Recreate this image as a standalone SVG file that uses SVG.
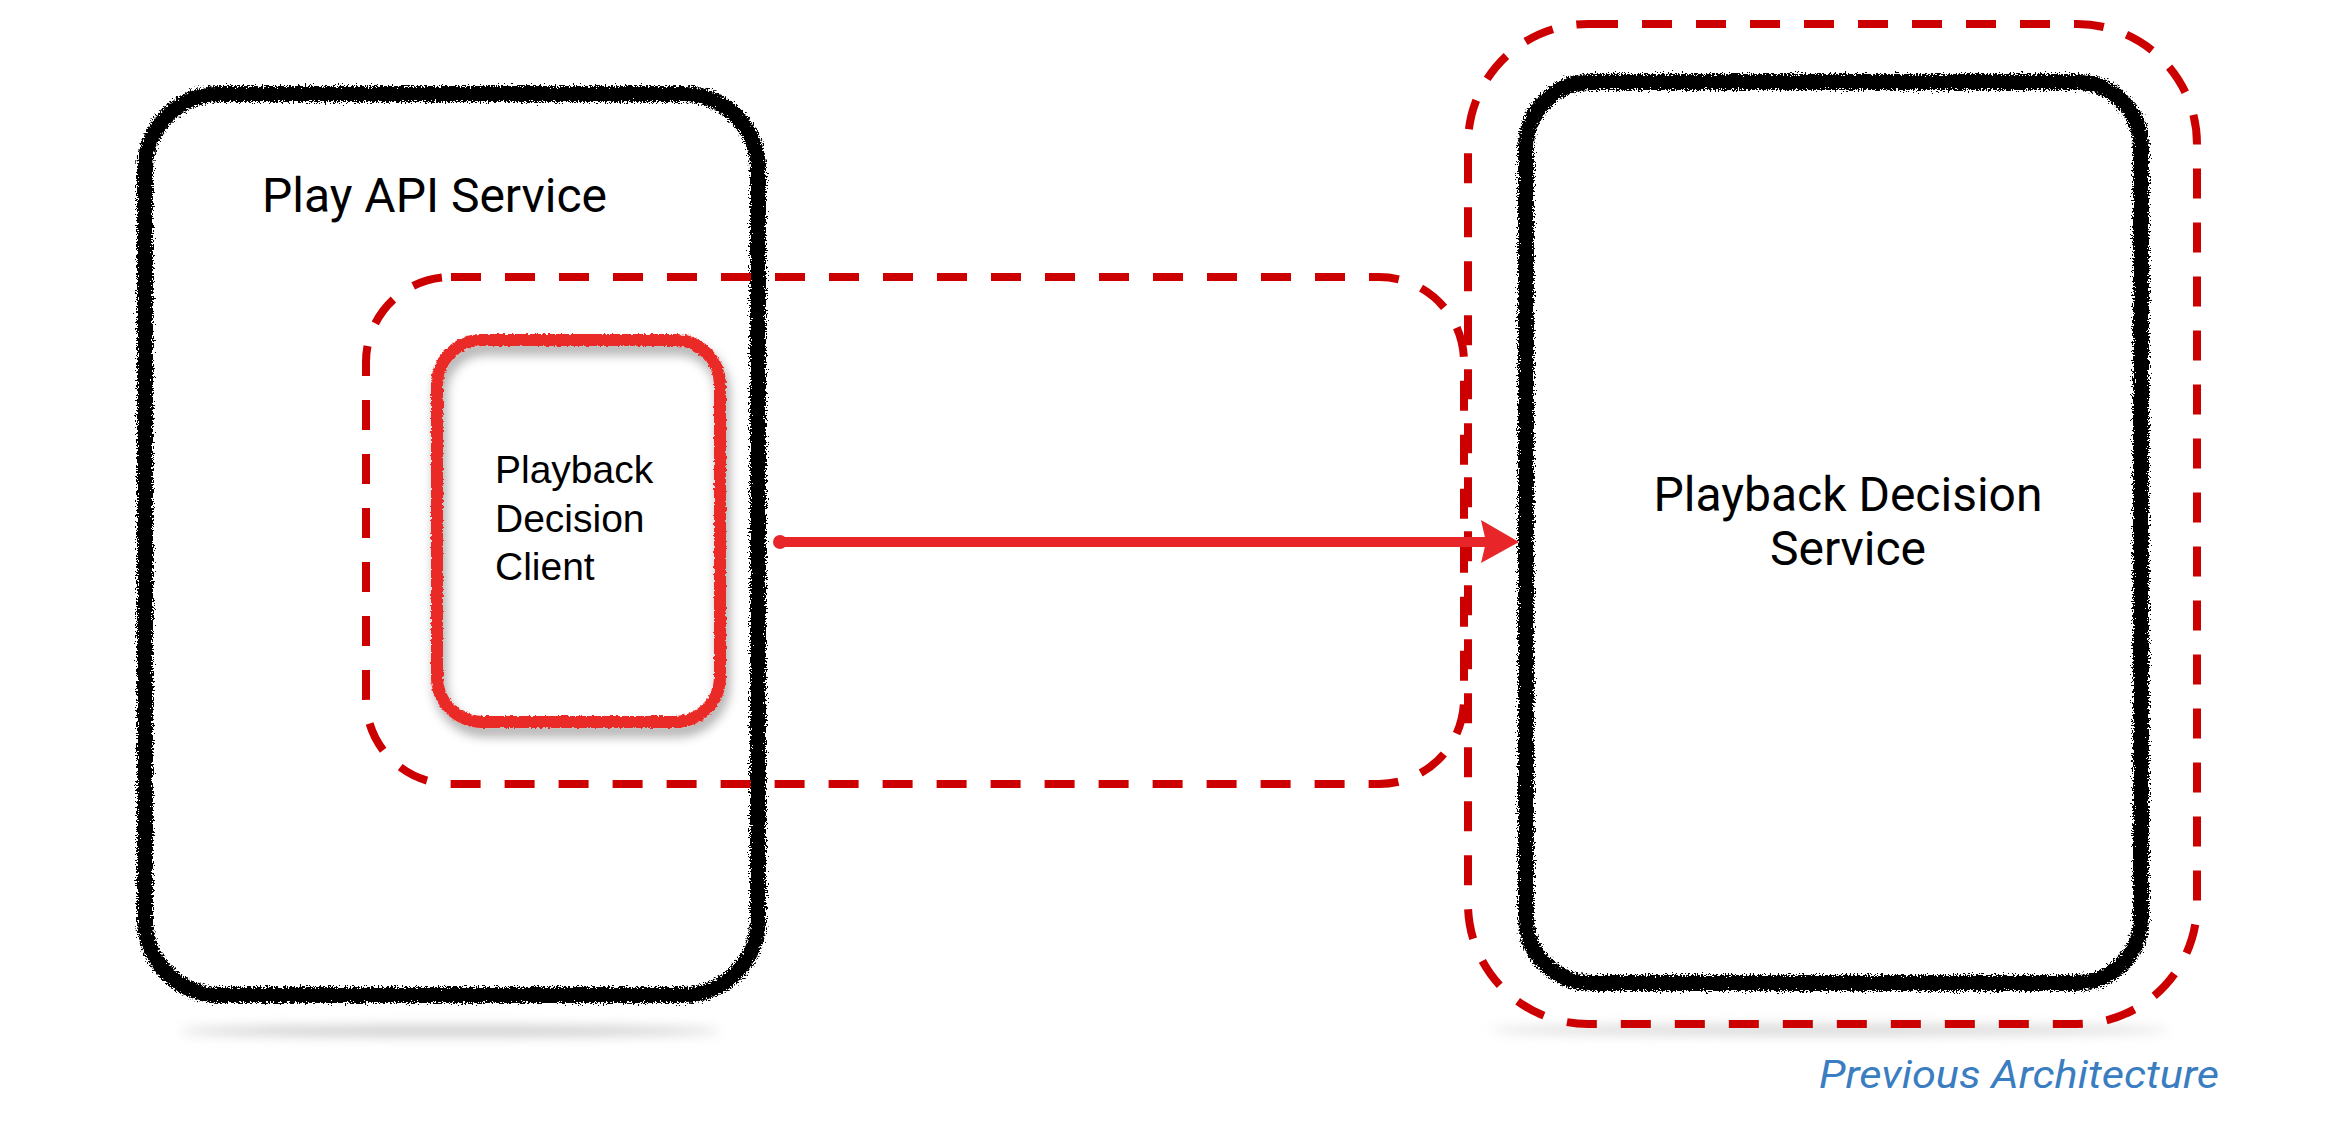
<svg xmlns="http://www.w3.org/2000/svg" width="2350" height="1130" viewBox="0 0 2350 1130">
  <defs>
    <filter id="rough" x="-5%" y="-5%" width="110%" height="110%">
      <feTurbulence type="fractalNoise" baseFrequency="0.6" numOctaves="3" seed="3" result="noise"/>
      <feDisplacementMap in="SourceGraphic" in2="noise" scale="10" xChannelSelector="R" yChannelSelector="G"/>
    </filter>
    <filter id="roughRed" x="-10%" y="-10%" width="120%" height="120%">
      <feTurbulence type="fractalNoise" baseFrequency="0.35" numOctaves="2" seed="7" result="noise"/>
      <feDisplacementMap in="SourceGraphic" in2="noise" scale="4" xChannelSelector="R" yChannelSelector="G" result="d"/>
      <feGaussianBlur in="SourceAlpha" stdDeviation="6" result="blur"/>
      <feOffset in="blur" dx="3" dy="8" result="off"/>
      <feComponentTransfer in="off" result="shadow">
        <feFuncA type="linear" slope="0.35"/>
      </feComponentTransfer>
      <feMerge>
        <feMergeNode in="shadow"/>
        <feMergeNode in="d"/>
      </feMerge>
    </filter>
    <filter id="softShadow" x="-20%" y="-200%" width="140%" height="500%">
      <feGaussianBlur stdDeviation="6"/>
    </filter>
  </defs>
  <style>
    .sketch { fill: none; stroke: #000; stroke-width: 16; filter: url(#rough); }
    .boundary { fill: none; stroke: #cc0000; stroke-width: 8; stroke-dasharray: 30 24; }
    .client { fill: none; stroke: #ea2a26; stroke-width: 12; filter: url(#roughRed); }
    .label { font-family: Roboto, "Liberation Sans", sans-serif; font-size: 48px; fill: #000; }
    .small { font-family: "Liberation Sans", Arial, sans-serif; font-size: 39px; fill: #000; }
    .caption { font-family: Roboto, "Liberation Sans", sans-serif; font-style: italic; font-size: 38px; fill: #3a7dc0; }
    .conn { stroke: #e8262a; stroke-width: 10; stroke-linecap: round; fill: none; }
  </style>
  <rect width="2350" height="1130" fill="#fff"/>

  <!-- soft ground shadows -->
  <ellipse cx="450" cy="1031" rx="270" ry="5" fill="#c8c8c8" filter="url(#softShadow)"/>
  <ellipse cx="1830" cy="1030" rx="340" ry="5" fill="#d4d4d4" filter="url(#softShadow)"/>

  <g id="play-api-service">
    <rect class="sketch" x="145" y="94" width="613" height="901" rx="75" ry="75"/>
    <text class="label" x="262" y="212">Play API Service</text>
  </g>

  <g id="playback-decision-service">
    <rect class="sketch" x="1526" y="82" width="615" height="901" rx="65" ry="65"/>
    <text class="label" x="1848" y="511" text-anchor="middle">Playback Decision</text>
    <text class="label" x="1848" y="565" text-anchor="middle">Service</text>
  </g>

  <g id="client-boundary">
    <rect class="boundary" x="366" y="277" width="1098" height="507" rx="85" ry="85"/>
  </g>

  <g id="service-boundary">
    <rect class="boundary" x="1468" y="24" width="729" height="1000" rx="120" ry="120"/>
  </g>

  <g id="playback-decision-client">
    <rect class="client" x="437" y="340" width="283" height="382" rx="45" ry="45"/>
    <text class="small" x="495" y="483">Playback</text>
    <text class="small" x="495" y="532">Decision</text>
    <text class="small" x="495" y="580">Client</text>
  </g>

  <g id="connectors">
    <circle cx="780" cy="542" r="7" fill="#e8262a"/>
    <path class="conn" d="M780 542 L1485 542"/>
    <polygon points="1481,520 1519,542 1481,563 1486,542" fill="#e8262a"/>
  </g>

  <text class="caption" x="1819" y="1088" textLength="400" lengthAdjust="spacingAndGlyphs">Previous Architecture</text>
</svg>
